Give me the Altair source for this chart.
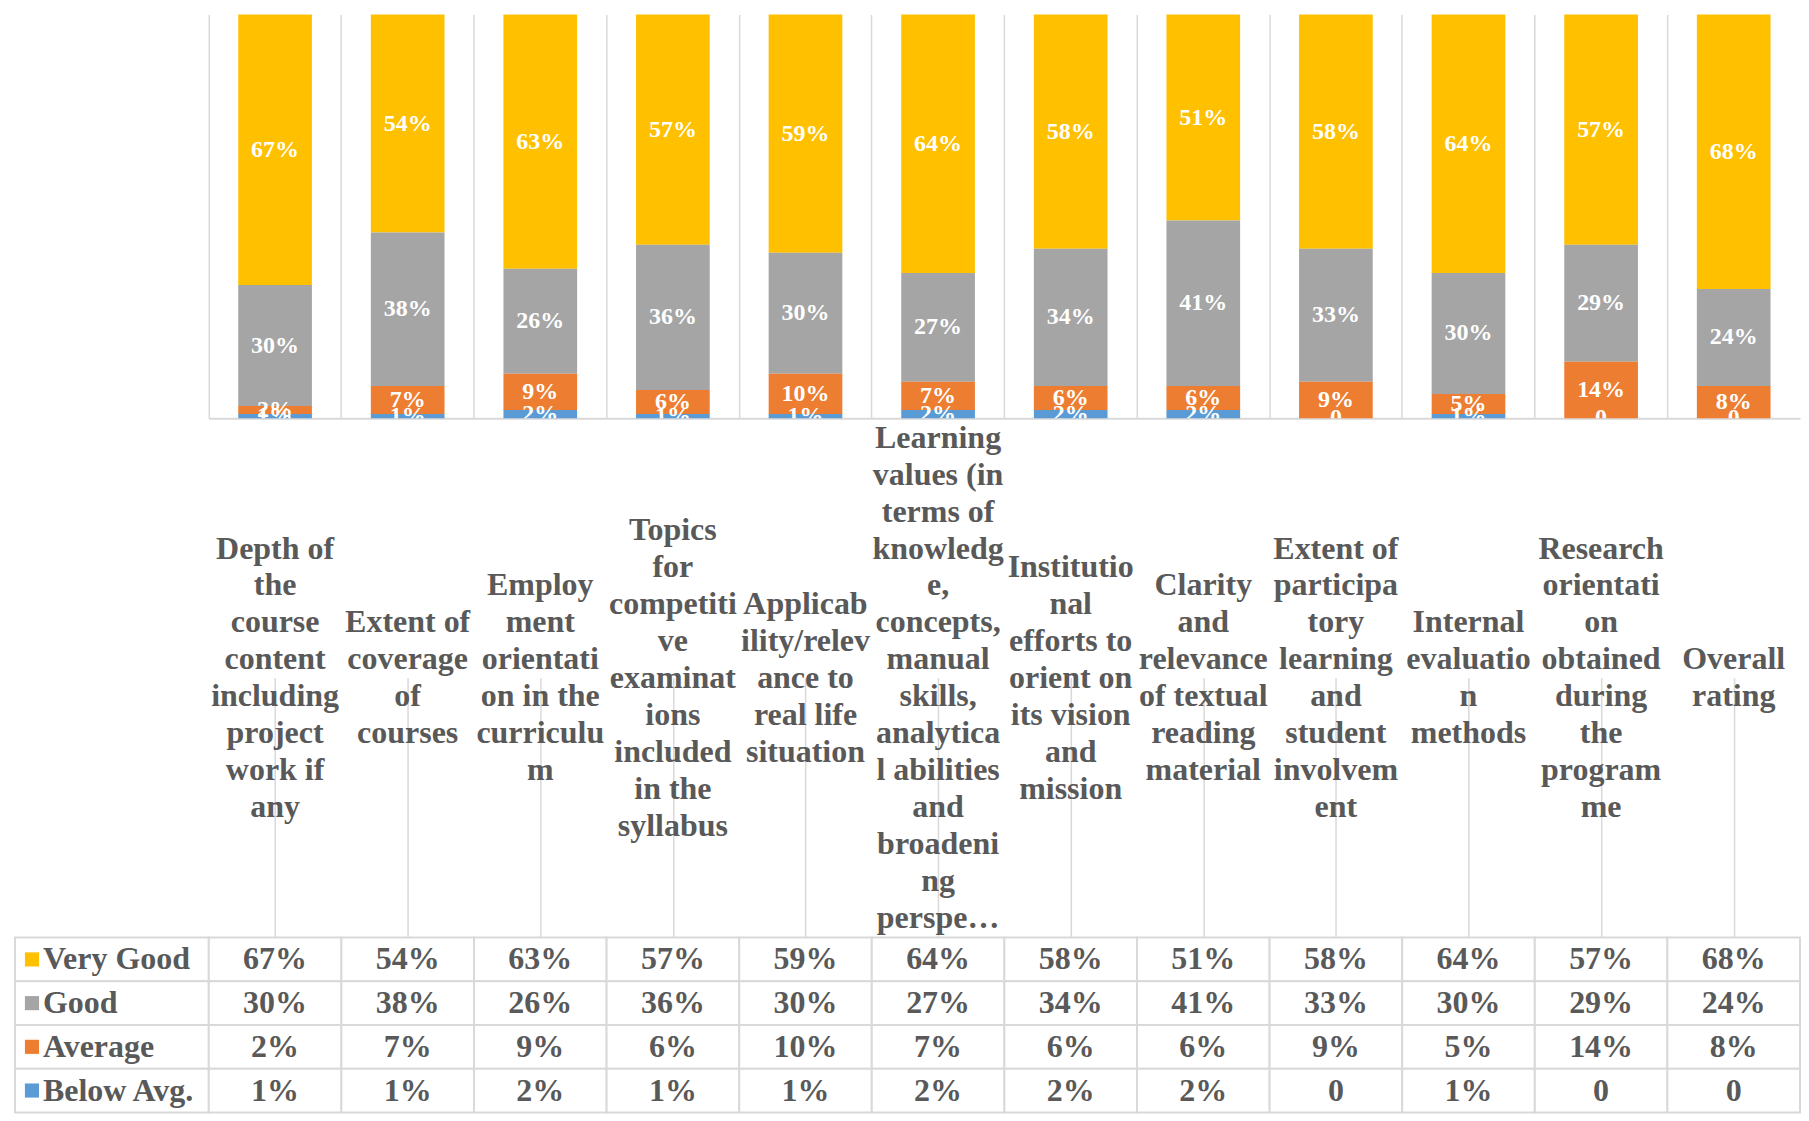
import altair as alt
import pandas as pd

categories = [
    "Depth of the course content including project work if any",
    "Extent of coverage of courses",
    "Employment orientation in the curriculum",
    "Topics for competitive examinations included in the syllabus",
    "Applicability/relevance to real life situation",
    "Learning values (in terms of knowledge, concepts, manual skills, analytical abilities and broadening perspectives)",
    "Institutional efforts to orient on its vision and mission",
    "Clarity and relevance of textual reading material",
    "Extent of participatory learning and student involvement",
    "Internal evaluation methods",
    "Research orientation obtained during the programme",
    "Overall rating",
]
category_lines = [
    ["Depth of", "the", "course", "content", "including", "project", "work if", "any"],
    ["Extent of", "coverage", "of", "courses"],
    ["Employ", "ment", "orientati", "on in the", "curriculu", "m"],
    ["Topics", "for", "competiti", "ve", "examinat", "ions", "included", "in the", "syllabus"],
    ["Applicab", "ility/relev", "ance to", "real life", "situation"],
    ["Learning", "values (in", "terms of", "knowledg", "e,", "concepts,", "manual", "skills,",
     "analytica", "l abilities", "and", "broadeni", "ng", "perspe…"],
    ["Institutio", "nal", "efforts to", "orient on", "its vision", "and", "mission"],
    ["Clarity", "and", "relevance", "of textual", "reading", "material"],
    ["Extent of", "participa", "tory", "learning", "and", "student", "involvem", "ent"],
    ["Internal", "evaluatio", "n", "methods"],
    ["Research", "orientati", "on", "obtained", "during", "the", "program", "me"],
    ["Overall", "rating"],
]
series = ["Very Good", "Good", "Average", "Below Avg."]
very_good = [67, 54, 63, 57, 59, 64, 58, 51, 58, 64, 57, 68]
good = [30, 38, 26, 36, 30, 27, 34, 41, 33, 30, 29, 24]
average = [2, 7, 9, 6, 10, 7, 6, 6, 9, 5, 14, 8]
below_avg = [1, 1, 2, 1, 1, 2, 2, 2, 0, 1, 0, 0]
colors = ["#FFC000", "#A5A5A5", "#ED7D31", "#5B9BD5"]

FONT = "Liberation Serif"
TXT = "#595959"
GRID = "#D9D9D9"
LEFT_W = 194
PLOT_W = 1593
BAR_H = 404
LAB_H = 520
TAB_H = 175
LINE_H = 37

rows = []
for s_idx, (name, vals) in enumerate(zip(series, [very_good, good, average, below_avg])):
    for c, v in zip(categories, vals):
        rows.append({
            "category": c,
            "series": name,
            "frac": v / 100.0,
            "label": "0" if v == 0 else f"{v}%",
            "order": 3 - s_idx,
        })
df = pd.DataFrame(rows)
lab_df = pd.DataFrame({"category": categories, "lines": category_lines,
                       "nlines": [len(l) for l in category_lines]})
hdr_df = pd.DataFrame({"series": series})

xscale = alt.Scale(domain=categories, paddingInner=0, paddingOuter=0)
color_scale = alt.Scale(domain=series, range=colors)


def x_enc(domain_line=False):
    return alt.X("category:N", scale=xscale, sort=categories,
                 axis=alt.Axis(grid=True, gridColor=GRID, gridWidth=1.5, bandPosition=0,
                               labels=False, ticks=False, title=None,
                               domain=domain_line, domainColor=GRID, domainWidth=2))


stacked = alt.Chart(df).transform_stack(
    stack="frac", groupby=["category"], as_=["y0", "y1"],
    sort=[alt.SortField("order", order="ascending")],
).transform_calculate(mid="(datum.y0 + datum.y1) / 2")

yscale = alt.Scale(domain=[0, 1], nice=False, zero=True)

bars = stacked.mark_bar(width={"band": 0.5556}).encode(
    x=x_enc(True),
    y=alt.Y("y0:Q", scale=yscale, axis=None),
    y2="y1:Q",
    color=alt.Color("series:N", scale=color_scale, legend=None),
)
bar_text = stacked.mark_text(font=FONT, fontWeight="bold", fontSize=24, color="white",
                             baseline="middle", align="center", clip=True).encode(
    x=alt.X("category:N", scale=xscale, sort=categories),
    y=alt.Y("mid:Q", scale=yscale),
    text="label:N",
)
bar_chart = alt.layer(bars, bar_text).properties(width=PLOT_W, height=BAR_H)

# first line of each wrapped label sits so that the whole block is centred
nl_scale = alt.Scale(domain=[1, 15], range=[LAB_H / 2, LAB_H / 2 - 14 * LINE_H / 2])
labels = alt.Chart(lab_df).mark_text(font=FONT, fontWeight="bold", fontSize=32, color=TXT,
                                     lineHeight=LINE_H, baseline="middle", align="center").encode(
    x=x_enc(False),
    y=alt.Y("nlines:Q", scale=nl_scale, axis=None),
    text="lines",
).properties(width=PLOT_W, height=LAB_H)

yrow = alt.Y("series:N", scale=alt.Scale(domain=series, paddingInner=0, paddingOuter=0),
             sort=series, axis=None)

cells = alt.Chart(df).mark_rect(fill="white", stroke=GRID, strokeWidth=2).encode(
    x=alt.X("category:N", scale=xscale, sort=categories, axis=None),
    y=yrow,
)
cell_text = alt.Chart(df).mark_text(font=FONT, fontWeight="bold", fontSize=32, color=TXT,
                                    baseline="middle", align="center").encode(
    x=alt.X("category:N", scale=xscale, sort=categories, axis=None),
    y=yrow,
    text="label:N",
)
table = alt.layer(cells, cell_text).properties(width=PLOT_W, height=TAB_H)

hdr_cells = alt.Chart(hdr_df).mark_rect(fill="white", stroke=GRID, strokeWidth=2).encode(
    x=alt.value(0), x2=alt.value(LEFT_W), y=yrow,
)
hdr_sq = alt.Chart(hdr_df).mark_square(size=200, opacity=1).encode(
    x=alt.value(17), y=yrow,
    color=alt.Color("series:N", scale=color_scale, legend=None),
)
hdr_txt = alt.Chart(hdr_df).mark_text(font=FONT, fontWeight="bold", fontSize=32, color=TXT,
                                      baseline="middle", align="left").encode(
    x=alt.value(28), y=yrow, text="series:N",
)
header = alt.layer(hdr_cells, hdr_sq, hdr_txt).properties(width=LEFT_W, height=TAB_H)


def blank(h):
    return alt.Chart(pd.DataFrame({"v": [0]})).mark_point(opacity=0, size=1).encode(
        x=alt.value(LEFT_W / 2), y=alt.value(h / 2)).properties(width=LEFT_W, height=h)


chart = alt.concat(
    blank(BAR_H), bar_chart,
    blank(LAB_H), labels,
    header, table,
    columns=2, spacing=0, bounds="flush",
).properties(
    padding={"left": 6, "top": 6, "right": 0, "bottom": 0},
    background="white",
).configure_view(stroke=None)

chart.save("out.html", embed_options={"renderer": "svg", "actions": False})
